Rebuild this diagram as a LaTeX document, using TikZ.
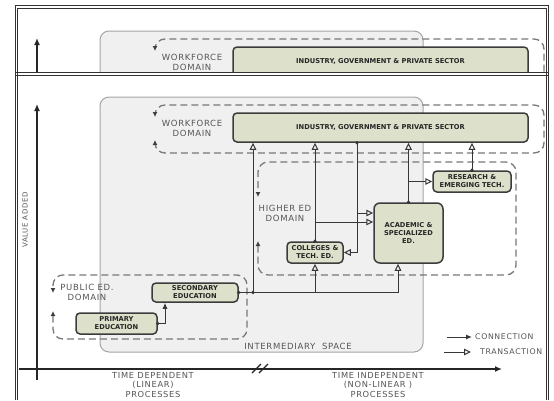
\documentclass[tikz,border=0pt]{standalone}
\usepackage{fontspec}
\setmainfont{DejaVu Sans}
\newfontfamily\lblfam[LetterSpace=8]{DejaVu Sans}
\usetikzlibrary{arrows.meta}
\definecolor{boxfill}{RGB}{221,225,203}
\definecolor{boxdraw}{RGB}{60,60,60}
\definecolor{domgray}{RGB}{120,120,120}
\definecolor{wiregray}{RGB}{55,55,55}
\definecolor{textgray}{RGB}{85,85,85}
\definecolor{midfill}{RGB}{240,240,240}
\definecolor{middraw}{RGB}{165,165,165}
\newcommand\boxfont{\fontsize{6.7}{8}\selectfont\bfseries}
\newcommand\lblfont{\lblfam\fontsize{8.5}{9.8}\selectfont}
\newcommand\botfont{\lblfam\fontsize{8.3}{9.3}\selectfont}
\newcommand\lgdfont{\lblfam\fontsize{7.8}{9}\selectfont}
\newcommand\valfont{\lblfam\fontsize{7}{8}\selectfont}
\tikzset{
  edbox/.style={draw=boxdraw, line width=1.5pt, fill=boxfill, rounded corners=4pt,
    inner sep=0pt, align=center, font=\boxfont, text=black!85},
  midbox/.style={draw=middraw, line width=1pt, fill=midfill, rounded corners=9pt, inner sep=0pt},
  dom/.style={draw=domgray, line width=1.3pt, dash pattern=on 7pt off 4pt, rounded corners=10pt,
    {Latex[length=5pt,width=5pt,color=black!75]}-{Latex[length=5pt,width=5pt,color=black!75]}},
  wire/.style={draw=wiregray, line width=1pt},
  trans/.style={wire, -{Triangle[open, length=7pt, width=6.5pt, line width=1pt]}},
  conn/.style={wire, -{Latex[length=6pt, width=5pt]}},
  axis/.style={draw=black!85, line width=1.5pt, -{Latex[length=7pt, width=6pt]}},
  lbl/.style={font=\lblfont, text=textgray, align=center, inner sep=0pt},
  frame/.style={draw=black!80, line width=0.8pt},
}
% the part that also shows in the top strip
\newcommand\partA{%
  \node[midbox, minimum width=323pt, minimum height=255pt] (mid) at (261.5,224.5) {};
  \coordinate (yb) at (37,380); \coordinate (yt) at (37,104);
  \draw[axis] (yb) -- (yt);
  \draw[dom] (155,140) -- (155,153) -- (544,153) -- (544,105) -- (155,105) -- (155,117);
  \node[lbl] (wflbl) at (192,128.5) {WORKFORCE\\DOMAIN};
  \node[edbox, minimum width=295pt, minimum height=29pt] (ind) at (380.5,127.5) {INDUSTRY, GOVERNMENT \& PRIVATE SECTOR};
}
\newcommand\partB{%
  \node[lbl] (midlbl) at (298,346) {INTERMEDIARY\ \ SPACE};
  \coordinate (xl) at (19,369); \coordinate (xr) at (502,369);
  \draw[axis] (xl) -- (xr);
  \coordinate (s1a) at (252,373); \coordinate (s1b) at (261,364);
  \coordinate (s2a) at (259,373); \coordinate (s2b) at (268,364);
  \draw[line width=1.2pt, black!85] (s1a) -- (s1b) (s2a) -- (s2b);
  \node[lbl, font=\valfont, rotate=90] (val) at (25,220) {VALUE ADDED};
  \node[lbl, font=\botfont] (tdl) at (153,385) {TIME DEPENDENT\\(LINEAR)\\PROCESSES};
  \node[lbl, font=\botfont] (til) at (378,385) {TIME INDEPENDENT\\(NON-LINEAR )\\PROCESSES};
  \draw[dom] (258,241) -- (258,275) -- (516,275) -- (516,162) -- (258,162) -- (258,197);
  \draw[dom] (53,311) -- (53,339) -- (247,339) -- (247,275) -- (53,275) -- (53,293);
  \node[lbl] (helbl) at (285,213) {HIGHER ED\\DOMAIN};
  \node[lbl] (pelbl) at (87,292) {PUBLIC ED.\\DOMAIN};
  \node[edbox, minimum width=78pt, minimum height=21pt] (res) at (472,181.5) {RESEARCH \&\\EMERGING TECH.};
  \node[edbox, minimum width=69pt, minimum height=60pt, rounded corners=6pt] (aca) at (408.5,233) {ACADEMIC \&\\SPECIALIZED\\ED.};
  \node[edbox, minimum width=56pt, minimum height=21pt] (col) at (315,252.5) {COLLEGES \&\\TECH. ED.};
  \node[edbox, minimum width=86pt, minimum height=19pt] (sec) at (195,292.5) {SECONDARY\\EDUCATION};
  \node[edbox, minimum width=81pt, minimum height=21pt] (pri) at (116.5,323.5) {PRIMARY\\EDUCATION};
  \coordinate (h1) at (253,292.5); \coordinate (h2) at (315,292.5); \coordinate (h3) at (398,292.5);
  \draw[conn] (pri.east) -| ([xshift=-30pt]sec.south);
  \draw[wire] (sec.east) -- (h3);
  \draw[trans] (h1) -- (h1 |- ind.south);
  \draw[trans] (h2) -- (col.south);
  \draw[trans] (h3) -- (h3 |- aca.south);
  \draw[trans] (col.north) -- (col.north |- ind.south);
  \coordinate (c1) at (315,222);
  \draw[trans] (c1) -- (c1 -| aca.west);
  \coordinate (d0) at (357,0 |- ind.south);
  \draw[trans] (d0) |- (col.east);
  \coordinate (d1) at (357,213);
  \draw[trans] (d1) -- (d1 -| aca.west);
  \draw[trans] (aca.north) -- (aca.north |- ind.south);
  \coordinate (a2) at (aca.north |- res.west);
  \draw[trans] (a2) -- (res.west);
  \draw[trans] (res.north) -- (res.north |- ind.south);
  \foreach \p in {pri.east, sec.east, h1, col.north, d0, aca.north, res.north}
    \fill[wiregray] (\p) circle (1.8pt);
  \coordinate (lc1) at (447,337); \coordinate (lc2) at (472,337);
  \draw[conn] (lc1) -- (lc2);
  \node[lbl, font=\lgdfont, anchor=west] (lcl) at (475,337) {CONNECTION};
  \coordinate (lt1) at (444,352); \coordinate (lt2) at (471,352);
  \draw[trans] (lt1) -- (lt2);
  \node[lbl, font=\lgdfont, anchor=west] (ltl) at (480,352) {TRANSACTION};
}
\begin{document}
\begin{tikzpicture}[x=1pt, y=-1pt]
  \useasboundingbox[fill=white] (0,0) rectangle (554,400);
  \begin{scope}
    \clip (15,8) rectangle (548,72);
    \begin{scope}[yshift=66pt]
      \partA
    \end{scope}
  \end{scope}
  \begin{scope}
    \clip (15,75) rectangle (548,400);
    \partA
    \partB
  \end{scope}
  \draw[frame] (15,5.5) -- (548.5,5.5) (17.5,8) -- (546,8);
  \draw[frame] (15,5.5) -- (15,400) (17.5,8) -- (17.5,400);
  \draw[frame] (548.5,5.5) -- (548.5,400) (546,8) -- (546,400);
  \draw[frame] (15,72) -- (548.5,72) (15,75) -- (548.5,75);
\end{tikzpicture}
\end{document}
